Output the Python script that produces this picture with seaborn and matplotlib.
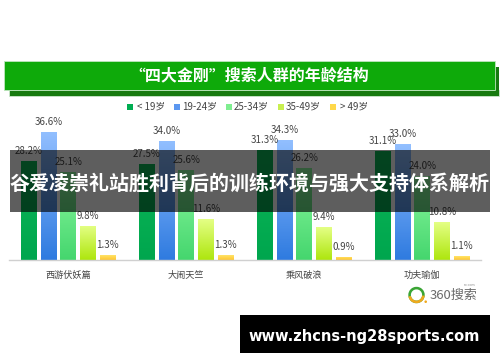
import matplotlib
matplotlib.use('Agg')
import matplotlib.pyplot as plt
from matplotlib.colors import LinearSegmentedColormap
from matplotlib.patches import Circle, Rectangle, Wedge
import numpy as np
import pandas as pd
import seaborn as sns

# 数据
movies = ['西游伏妖篇', '大闹天竺', '乘风破浪', '功夫瑜伽']
ages = ['< 19岁', '19-24岁', '25-34岁', '35-49岁', '> 49岁']
under_19 = [28.2, 27.5, 31.3, 31.1]
age_19_24 = [36.6, 34.0, 34.3, 33.0]
age_25_34 = [25.1, 25.6, 26.2, 24.0]
age_35_49 = [9.8, 11.6, 9.4, 10.8]
over_49 = [1.3, 1.3, 0.9, 1.1]

title = '“四大金刚”搜索人群的年龄结构'
banner = '谷爱凌崇礼站胜利背后的训练环境与强大支持体系解析'
site = 'www.zhcns-ng28sports.com'

grad_top = ['#0cb757', '#92bfff', '#8af79e', '#e4ff85', '#ffe468']
grad_bot = ['#00a64e', '#2f7be0', '#45d66e', '#aee60e', '#ffc530']
swatch = ['#00ad52', '#5b97f0', '#7fee90', '#c8ef50', '#ffd84a']

df = pd.DataFrame({'movie': movies, ages[0]: under_19, ages[1]: age_19_24,
                   ages[2]: age_25_34, ages[3]: age_35_49, ages[4]: over_49})
df = df.melt(id_vars='movie', var_name='age', value_name='share')

sns.set_theme(style='white')
plt.rcParams['font.family'] = ['Noto Sans CJK SC', 'DejaVu Sans']

W, H = 500, 362
fig = plt.figure(figsize=(W / 100, H / 100), dpi=100, facecolor='white')
ax = fig.add_axes([9.3 / W, (H - 260) / H, 472 / W, 160 / H])

sns.barplot(data=df, x='movie', y='share', hue='age', hue_order=ages, order=movies,
            palette=grad_bot, width=5 / 6, gap=0.19, legend=False, ax=ax)
ax.set_xlim(-0.5, 3.5)
ax.set_ylim(0, 160 / 3.505)
ax.set_xlabel('')
ax.set_ylabel('')
ax.set_yticks([])
ax.tick_params(axis='x', length=0, pad=8, labelsize=6.6, labelcolor='#444444')
for s in ['top', 'left', 'right']:
    ax.spines[s].set_visible(False)
ax.spines['bottom'].set_color('#d0d0d0')
ax.spines['bottom'].set_linewidth(1)
ax.patch.set_alpha(0)

# 渐变填充和数值标签
bars = [p for p in ax.patches if p.get_height() > 0]
for i, p in enumerate(bars):
    k = i // 4
    cmap = LinearSegmentedColormap.from_list('g', [grad_top[k], grad_bot[k]])
    x0, w, h = p.get_x(), p.get_width(), p.get_height()
    im = ax.imshow(np.linspace(0, 1, 64).reshape(-1, 1), cmap=cmap, aspect='auto',
                   extent=(x0, x0 + w, 0, h), zorder=2)
    im.set_clip_path(p)
    p.set_edgecolor('none')
    ax.text(x0 + w / 2, h + 2.85, f'{h:.1f}%', ha='center', va='center',
            fontsize=7, color='#444444', zorder=3)
ax.set_xlim(-0.5, 3.5)
ax.set_ylim(0, 160 / 3.505)

# 其余部分用像素坐标
top = fig.add_axes([0, 0, 1, 1], zorder=5)
top.set_xlim(0, W)
top.set_ylim(H, 0)
top.axis('off')

top.add_patch(Rectangle((8.5, 90), 490, 6, fc='#177a10', ec='#cfe8cf', lw=0.6, zorder=1))
top.add_patch(Rectangle((494.5, 67), 4, 29, fc='#177a10', ec='none', zorder=1))
top.add_patch(Rectangle((4, 61), 490.5, 29, fc='#0eaa0a', ec='#bfe6bf', lw=0.6, zorder=2))
top.text(249.5, 75.5, title, ha='center', va='center', color='white', fontsize=11.5,
         fontweight='bold', zorder=3)

# 图例
legend_x = [127, 174, 226, 278, 330]
text_x = [137, 182, 234, 286, 340]
for k, label in enumerate(ages):
    top.add_patch(Rectangle((legend_x[k], 104), 5.5, 6, color=swatch[k], lw=0))
    top.text(text_x[k], 106.7, label, ha='left', va='center', fontsize=7, color='#444444')

# 360 logo
top.add_patch(Wedge((416.5, 295), 8.2, 0, 360, width=2.6, color='#3aa535', lw=0))
top.add_patch(Wedge((416.5, 295), 8.2, 5, 170, width=2.6, color='#f0a91e', lw=0))
top.add_patch(Circle((425.7, 301.7), 1.3, color='#f0a91e', lw=0))
top.text(430, 295, '360搜索', ha='left', va='center', fontsize=9.4, color='#6a6a6a')
top.text(470, 285, 'so.com', ha='center', va='center', fontsize=2.5, color='#888888')

# 压在图上的横幅
top.add_patch(Rectangle((10, 150), 480, 62, color='black', alpha=0.63, lw=0, zorder=6))
top.text(250, 183.5, banner, ha='center', va='center', color='white', fontsize=14.4,
         fontweight='bold', zorder=7)
top.add_patch(Rectangle((240, 315), 250, 38, color='black', lw=0, zorder=6))
top.text(364, 336, site, ha='center', va='center', color='white', fontsize=10.5,
         fontweight='bold', family='DejaVu Sans', zorder=7)

fig.savefig('out.png', dpi=100)
